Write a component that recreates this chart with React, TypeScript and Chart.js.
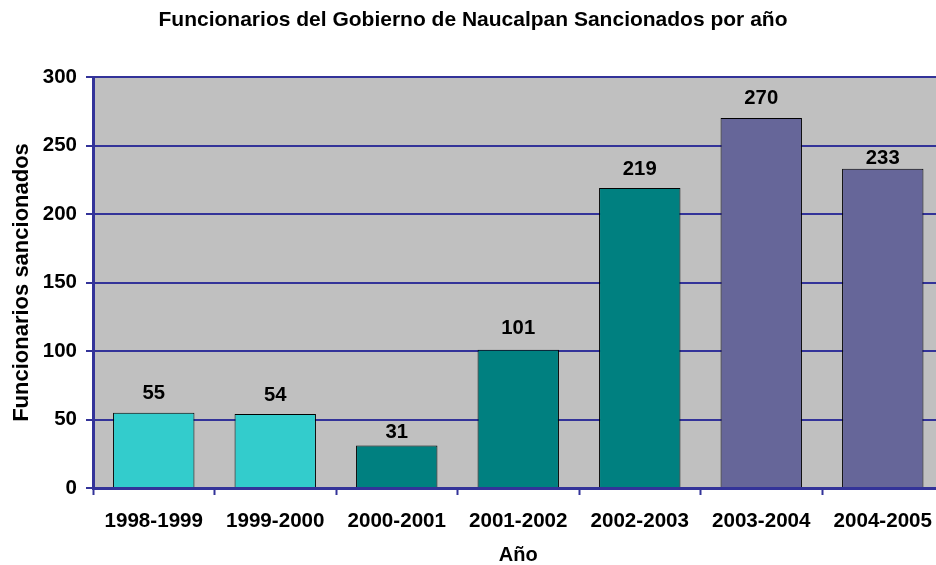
import React, { useEffect, useRef } from "react";
import { Chart, registerables } from "chart.js";

Chart.register(...registerables);

const categories = ["1998-1999", "1999-2000", "2000-2001", "2001-2002", "2002-2003", "2003-2004", "2004-2005"];
const values = [55, 54, 31, 101, 219, 270, 233];
const barColors = ["#33CCCC", "#33CCCC", "#008080", "#008080", "#008080", "#666699", "#666699"];
const yTicks = [0, 50, 100, 150, 200, 250, 300];
const chartTitle = "Funcionarios del Gobierno de Naucalpan Sancionados por año";
const xTitle = "Año";
const yTitle = "Funcionarios sancionados";

// per-bar label gap above bar top (style)
const labelGaps = [19, 19, 13, 21, 19, 20, 10];

const FONT = '"Liberation Sans", Arial, sans-serif';
const NAVY = "#333399";

const bgPlugin = {
  id: "plotBg",
  beforeDraw(chart: any) {
    const { ctx, chartArea } = chart;
    ctx.save();
    ctx.fillStyle = "#C0C0C0";
    ctx.fillRect(chartArea.left, chartArea.top, chartArea.right - chartArea.left, chartArea.bottom - chartArea.top);
    ctx.restore();
  },
};

const labelPlugin = {
  id: "barLabels",
  afterDatasetsDraw(chart: any) {
    const { ctx } = chart;
    const meta = chart.getDatasetMeta(0);
    ctx.save();
    ctx.font = `bold 20.3px ${FONT}`;
    ctx.fillStyle = "#000";
    ctx.textAlign = "center";
    ctx.textBaseline = "middle";
    meta.data.forEach((bar: any, i: number) => {
      ctx.fillText(String(values[i]), bar.x, bar.y - labelGaps[i]);
    });
    ctx.restore();
  },
};

export default function App() {
  const ref = useRef<HTMLCanvasElement>(null);
  useEffect(() => {
    if (!ref.current) return;
    const chart = new Chart(ref.current, {
      type: "bar",
      data: {
        labels: categories,
        datasets: [
          {
            data: values,
            backgroundColor: barColors,
            borderColor: "#000",
            borderWidth: 1,
            barPercentage: 0.67,
            categoryPercentage: 1,
          },
        ],
      },
      options: {
        animation: false,
        responsive: false,
        layout: { padding: 0 },
        plugins: {
          legend: { display: false },
          tooltip: { enabled: false },
          title: {
            display: true,
            text: chartTitle,
            color: "#000",
            font: { family: FONT, size: 21, weight: "bold", lineHeight: 1.2 },
            padding: { top: 7.4, bottom: 44.4 },
          },
        },
        scales: {
          x: {
            afterFit: (s: any) => {
              s.height = 77;
            },
            border: { color: NAVY, width: 3 },
            grid: {
              drawOnChartArea: false,
              drawTicks: true,
              tickLength: 7,
              tickColor: NAVY,
              tickWidth: 2,
              offset: true,
            },
            ticks: {
              color: "#000",
              font: { family: FONT, size: 20.6, weight: "bold", lineHeight: 1.2 },
              padding: 14,
              maxRotation: 0,
              autoSkip: false,
            },
            title: {
              display: true,
              text: xTitle,
              color: "#000",
              font: { family: FONT, size: 20, weight: "bold", lineHeight: 1 },
              padding: { top: 0, bottom: 0 },
            },
          },
          y: {
            min: yTicks[0],
            max: yTicks[yTicks.length - 1],
            afterFit: (s: any) => {
              s.width = 93;
            },
            afterBuildTicks: (s: any) => {
              s.ticks = yTicks.map((v) => ({ value: v }));
            },
            border: { color: NAVY, width: 3 },
            grid: {
              color: NAVY,
              lineWidth: 2,
              drawTicks: true,
              tickLength: 7,
              tickColor: NAVY,
              tickWidth: 2,
            },
            ticks: {
              color: "#000",
              font: { family: FONT, size: 20.5, weight: "bold" },
              padding: 9,
            },
            title: {
              display: true,
              text: yTitle,
              color: "#000",
              font: { family: FONT, size: 22, weight: "bold", lineHeight: 1 },
              padding: { top: 10.5, bottom: 0 },
            },
          },
        },
      },
      plugins: [bgPlugin, labelPlugin],
    } as any);
    return () => chart.destroy();
  }, []);

  return (
    <div style={{ position: "fixed", left: 0, top: 0, width: 936, height: 565, overflow: "hidden", background: "#fff" }}>
      <canvas ref={ref} width={946} height={565} style={{ width: 946, height: 565, display: "block" }} />
    </div>
  );
}
